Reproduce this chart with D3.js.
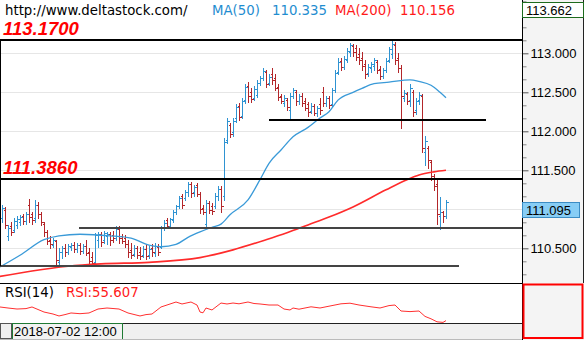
<!DOCTYPE html>
<html><head><meta charset="utf-8">
<script src="https://cdn.jsdelivr.net/npm/d3@7"></script>
<style>
html,body{margin:0;padding:0;background:#fff;}
svg{display:block;}
</style></head><body>
<svg id="c" width="585" height="340"></svg>
<script>
// ---------- DATA ----------
const open = [110.89,110.99,110.66,110.79,110.73,110.80,110.84,110.91,110.85,111.05,
110.94,110.89,111.05,110.94,110.81,110.71,110.61,110.54,110.59,110.32,
110.45,110.50,110.45,110.52,110.54,110.49,110.54,110.47,110.53,110.45,
110.39,110.32,110.61,110.68,110.61,110.66,110.68,110.67,110.63,110.75,
110.66,110.63,110.55,110.48,110.43,110.50,110.45,110.41,110.49,110.41,
110.50,110.44,110.52,110.52,110.76,110.86,110.79,110.86,110.97,111.04,
111.17,111.15,111.22,111.33,111.22,111.31,111.20,111.02,110.81,111.08,
111.04,111.04,111.17,111.26,111.17,111.89,112.08,111.99,112.17,112.32,
112.20,112.40,112.58,112.50,112.43,112.47,112.62,112.68,112.76,112.62,
112.73,112.68,112.57,112.45,112.36,112.40,112.27,112.45,112.50,112.39,
112.45,112.39,112.35,112.26,112.32,112.23,112.35,112.50,112.36,112.43,
112.35,112.53,112.76,112.90,112.82,112.91,113.02,113.09,113.07,112.99,
112.94,112.86,112.75,112.81,112.84,112.89,112.80,112.71,112.79,112.91,
112.99,113.11,112.94,112.81,112.43,112.48,112.40,112.50,112.27,112.40,
112.45,111.73,111.79,111.61,111.43,111.33,110.91,110.97,110.91];
const high = [111.05,111.03,110.80,110.84,110.89,110.91,110.93,110.94,110.97,111.13,
110.97,111.12,111.09,110.97,110.84,110.73,110.66,110.63,110.61,110.50,
110.53,110.55,110.55,110.57,110.58,110.57,110.57,110.55,110.61,110.50,
110.45,110.70,110.71,110.71,110.72,110.71,110.71,110.72,110.79,110.79,
110.68,110.67,110.61,110.57,110.54,110.53,110.52,110.53,110.54,110.53,
110.55,110.57,110.55,110.79,110.86,110.89,110.89,110.99,111.05,111.17,
111.20,111.25,111.35,111.35,111.31,111.34,111.22,111.05,111.12,111.11,
111.08,111.21,111.30,111.30,111.91,112.17,112.11,112.17,112.35,112.36,
112.43,112.61,112.63,112.55,112.58,112.66,112.71,112.81,112.79,112.73,
112.81,112.73,112.61,112.48,112.47,112.43,112.49,112.55,112.53,112.48,
112.49,112.43,112.38,112.36,112.35,112.32,112.43,112.57,112.45,112.45,
112.55,112.79,112.94,112.94,112.97,113.07,113.13,113.12,113.11,113.07,
113.02,112.91,112.86,112.89,112.94,112.91,112.84,112.81,112.94,113.08,
113.17,113.15,113.00,112.85,112.53,112.50,112.61,112.53,112.43,112.50,
112.48,111.94,111.81,111.63,111.45,111.38,111.16,110.98,111.12];
const low = [110.84,110.76,110.61,110.67,110.71,110.76,110.80,110.81,110.81,110.84,
110.81,110.84,110.89,110.80,110.66,110.55,110.50,110.52,110.29,110.29,
110.38,110.40,110.43,110.48,110.45,110.45,110.43,110.44,110.41,110.30,
110.27,110.29,110.52,110.53,110.57,110.55,110.54,110.58,110.61,110.57,
110.57,110.52,110.39,110.38,110.40,110.38,110.36,110.39,110.36,110.38,
110.40,110.40,110.41,110.50,110.73,110.76,110.76,110.84,110.94,111.02,
111.02,111.12,111.17,111.16,111.17,111.17,110.95,110.94,110.77,110.95,
110.94,111.02,111.12,110.97,111.12,111.85,111.93,111.94,112.12,112.14,
112.17,112.36,112.38,112.38,112.40,112.44,112.59,112.66,112.57,112.59,
112.61,112.53,112.40,112.36,112.32,112.27,112.17,112.43,112.34,112.35,
112.32,112.27,112.20,112.23,112.21,112.20,112.22,112.32,112.32,112.30,
112.32,112.50,112.73,112.79,112.80,112.89,112.97,112.97,112.91,112.86,
112.79,112.68,112.71,112.76,112.79,112.75,112.67,112.68,112.76,112.89,
112.94,112.86,112.76,112.04,112.39,112.35,112.32,112.20,112.22,112.35,
111.73,111.57,111.53,111.38,111.25,110.81,110.75,110.84,110.89];
const close = [111.02,110.80,110.76,110.71,110.85,110.88,110.90,110.85,110.94,110.90,
110.86,111.05,110.94,110.84,110.71,110.59,110.55,110.61,110.35,110.45,
110.50,110.45,110.53,110.54,110.49,110.54,110.47,110.53,110.44,110.34,
110.31,110.67,110.68,110.58,110.70,110.68,110.61,110.63,110.75,110.63,
110.59,110.55,110.45,110.41,110.50,110.41,110.40,110.49,110.40,110.49,
110.45,110.53,110.45,110.76,110.82,110.79,110.88,110.97,111.04,111.15,
111.05,111.22,111.33,111.21,111.29,111.20,111.00,110.97,111.08,110.99,
110.98,111.17,111.26,111.04,111.86,112.13,111.97,112.13,112.31,112.18,
112.39,112.57,112.45,112.41,112.54,112.62,112.68,112.77,112.61,112.70,
112.66,112.55,112.44,112.39,112.43,112.31,112.45,112.53,112.39,112.45,
112.36,112.30,112.25,112.32,112.23,112.30,112.27,112.36,112.43,112.34,
112.53,112.75,112.89,112.82,112.93,113.03,113.11,113.02,112.95,112.91,
112.84,112.73,112.82,112.86,112.91,112.79,112.71,112.79,112.90,113.05,
113.12,112.91,112.81,112.45,112.49,112.39,112.55,112.25,112.39,112.47,
111.79,111.87,111.63,111.43,111.30,110.94,110.97,110.91,111.095];

// moving averages (bar index, value)
const ma50Bar = [-0.7,6,14,19,26,36,43,49,53,58,62,66,70,73,76,82,86,89,93,97,102,106,109,112,117,120,124,129,136,139,143,146,148];
const ma50Val = [110.26,110.41,110.61,110.66,110.68,110.66,110.63,110.54,110.52,110.55,110.64,110.71,110.77,110.81,110.93,111.12,111.38,111.59,111.76,111.93,112.05,112.17,112.25,112.40,112.50,112.55,112.61,112.63,112.66,112.64,112.59,112.50,112.43];
const ma200Bar = [-0.7,10,22,33,49,66,77,88,95,102,109,117,128,135,139,144,148];
const ma200Val = [110.14,110.21,110.27,110.30,110.32,110.38,110.48,110.61,110.70,110.80,110.90,111.03,111.25,111.38,111.44,111.48,111.50];

// RSI(14) samples (bar index, value)
const rsiBar = [-0.7,2,5,8,10,14,17,19,21,23,26,29,32,35,39,42,46,48,50,53,55,58,60,63,65,66,67,68,70,73,75,77,79,82,84,86,89,92,94,96,97,99,103,106,109,113,116,119,123,126,129,131,133,136,139,141,143,145,147,148];
const rsiVal = [51.7,50,48.3,49,51.7,43.3,40,36.7,39,41.7,40.5,41.7,48.3,50,48.3,41.7,36.7,39,40,51.7,55,60,56.7,60,55,43.3,42,50,46.7,58.3,56.7,58.3,57,60,57.5,56.7,55,55,48.3,46.7,50,48,52,50,53,57,58,55,52,50,54,55,45,44,45,36,32,27,26,29];

const priceTicks = [110.5, 111.0, 111.5, 112.0, 112.5, 113.0];
const topPrice = 113.662;
const lastPrice = 111.095;

// horizontal levels: price, start bar, end bar
const levelPrice = [113.17, 111.386, 112.15, 110.76, 110.27];
const levelFrom  = [-1, -1, 89, 25.7, -1];
const levelTo    = [174, 174, 161.3, 174, 152.3];
const levelLabel = ["113.1700", "111.3860", "", "", ""];

const siteText = "http://www.deltastock.com/";
const ma50Label = ["MA(50)", "110.335"];
const ma200Label = ["MA(200)", "110.156"];
const rsiLabel = ["RSI(14)", "RSI:55.607"];
const dateLabel = "2018-07-02 12:00";

// ---------- DRAW ----------
const W = 585, H = 340, PR = 522, MAIN_B = 283, RSI_B = 323;
const N = close.length;
const svg = d3.select('#c');
svg.append('rect').attr('width', W).attr('height', H).attr('fill', '#fff');

const x = d3.scaleLinear([0, N - 1], [2, 446]);
const y = d3.scaleLinear([110.5, 113], [248.3, 53.3]);
const rsiY = d3.scaleLinear([30, 70], [320, 296]);
const px = i => Math.round(x(i)) + 0.5;
const py = v => Math.round(y(v)) + 0.5;

// axis backgrounds
svg.append('rect').attr('x', PR).attr('y', 0).attr('width', 62).attr('height', 340).attr('fill', '#f4f4f4');
svg.append('rect').attr('x', 0).attr('y', RSI_B).attr('width', PR).attr('height', 17).attr('fill', '#f0f0f0');

const defs = svg.append('defs');
defs.append('clipPath').attr('id', 'cm').append('rect').attr('x', 0).attr('y', 0).attr('width', PR).attr('height', MAIN_B);
defs.append('clipPath').attr('id', 'cr').append('rect').attr('x', 0).attr('y', MAIN_B + 1).attr('width', PR).attr('height', RSI_B - MAIN_B - 1);

const main = svg.append('g').attr('clip-path', 'url(#cm)');

// grid
main.selectAll('line.grid').data(priceTicks).join('line')
  .attr('x1', 0).attr('x2', PR).attr('y1', d => py(d)).attr('y2', d => py(d))
  .attr('stroke', '#e6e6e6').attr('stroke-width', 1).attr('shape-rendering', 'crispEdges');

// OHLC bars
const idx = d3.range(N);
main.append('g').selectAll('path').data(idx).join('path')
  .attr('d', i => {
    const xx = px(i);
    return `M${xx},${py(high[i]) - 0.5}V${py(low[i]) + 0.5}` +
           `M${xx - 2},${py(open[i])}H${xx}` +
           `M${xx},${py(close[i])}H${xx + 2.5}`;
  })
  .attr('fill', 'none')
  .attr('stroke', i => close[i] >= open[i] ? '#2f93d2' : '#b3262a')
  .attr('stroke-width', 1).attr('shape-rendering', 'crispEdges');

// moving averages
const line = d3.line().x(d => x(d[0])).y(d => y(d[1])).curve(d3.curveMonotoneX);
main.append('path').datum(ma50Bar.map((b, k) => [b, ma50Val[k]]))
  .attr('d', line).attr('fill', 'none').attr('stroke', '#3a9ad8').attr('stroke-width', 1.3);
main.append('path').datum(ma200Bar.map((b, k) => [b, ma200Val[k]]))
  .attr('d', line).attr('fill', 'none').attr('stroke', '#ff2b2b').attr('stroke-width', 1.6);

// levels
levelPrice.forEach((p, k) => {
  const heavy = k >= 3;
  main.append('line')
    .attr('x1', Math.max(0, x(levelFrom[k]))).attr('x2', Math.min(PR, x(levelTo[k])))
    .attr('y1', Math.round(y(p))).attr('y2', Math.round(y(p)))
    .attr('stroke', heavy ? '#444' : '#000').attr('stroke-width', 2)
    .attr('shape-rendering', 'crispEdges');
  if (levelLabel[k]) {
    main.append('text').attr('x', 3).attr('y', Math.round(y(p)) - 5)
      .attr('font-family', '"Liberation Sans", Arial, sans-serif')
      .attr('font-size', 18.5).attr('font-weight', 'bold').attr('font-style', 'italic')
      .attr('fill', '#ff0000').text(levelLabel[k]);
  }
});

// left border
svg.append('line').attr('x1', 0.5).attr('x2', 0.5).attr('y1', Math.round(y(levelPrice[0]))).attr('y2', Math.round(y(levelPrice[4])))
  .attr('stroke', '#000').attr('stroke-width', 1);

// header texts
const hdrFont = '"DejaVu Sans", Verdana, sans-serif';
const hdr = [
  [5, siteText, '#000'],
  [212, ma50Label[0], '#1f8dd0'], [272, ma50Label[1], '#1f8dd0'],
  [335, ma200Label[0], '#ff1a1a'], [400, ma200Label[1], '#ff1a1a']
];
hdr.forEach(h => svg.append('text').attr('x', h[0]).attr('y', 15)
  .attr('font-family', hdrFont).attr('font-size', 13.3).attr('fill', h[2]).text(h[1]));

// panel separators
svg.append('line').attr('x1', 0).attr('x2', PR).attr('y1', MAIN_B + 0.5).attr('y2', MAIN_B + 0.5).attr('stroke', '#000');
svg.append('line').attr('x1', 0).attr('x2', PR).attr('y1', RSI_B + 0.5).attr('y2', RSI_B + 0.5).attr('stroke', '#222');

// RSI
const rsiG = svg.append('g').attr('clip-path', 'url(#cr)');
rsiG.append('path').datum(rsiBar.map((b, k) => [b, rsiVal[k]]))
  .attr('d', d3.line().x(d => x(d[0])).y(d => rsiY(d[1])))
  .attr('fill', 'none').attr('stroke', '#ff3030').attr('stroke-width', 1);
svg.append('text').attr('x', 5).attr('y', 297).attr('font-family', hdrFont).attr('font-size', 13.3).attr('fill', '#000').text(rsiLabel[0]);
svg.append('text').attr('x', 66).attr('y', 297).attr('font-family', hdrFont).attr('font-size', 13.3).attr('fill', '#ff1a1a').text(rsiLabel[1]);

// price axis
const axFont = '"Liberation Sans", Arial, sans-serif';
const minor = d3.range(110.0, 113.7, 0.5 / 3).filter(v => !priceTicks.some(t => Math.abs(t - v) < 1e-6));
const axG = svg.append('g').attr('transform', `translate(${PR + 0.5},0)`);
axG.call(d3.axisRight(y).tickValues(minor).tickSize(4).tickFormat(''));
axG.call(g => g.select('.domain').remove());
axG.selectAll('line').attr('stroke', '#888');
// labels hidden where the last-price box covers them
const hiddenByBox = v => Math.abs(y(v) - (y(lastPrice) + 8)) < 14;
const axM = svg.append('g').attr('transform', `translate(${PR + 0.5},0)`);
axM.call(d3.axisRight(y).tickValues(priceTicks).tickSize(6).tickPadding(2)
  .tickFormat(v => hiddenByBox(v) ? '' : d3.format('.3f')(v)));
axM.select('.domain').remove();
axM.selectAll('line').attr('stroke', '#555');
axM.selectAll('text').attr('font-family', axFont).attr('font-size', 13).attr('fill', '#000');

// axis frame lines
svg.append('line').attr('x1', PR + 0.5).attr('x2', PR + 0.5).attr('y1', 0).attr('y2', 340).attr('stroke', '#000');
svg.append('line').attr('x1', 583.5).attr('x2', 583.5).attr('y1', 0).attr('y2', MAIN_B).attr('stroke', '#222');

// top price box
svg.append('rect').attr('x', PR + 0.5).attr('y', Math.round(y(topPrice)) + 0.5).attr('width', 61).attr('height', 15)
  .attr('fill', '#fff').attr('stroke', '#1d6b1d');
svg.append('text').attr('x', PR + 4).attr('y', Math.round(y(topPrice)) + 13).attr('font-family', axFont).attr('font-size', 13)
  .attr('fill', '#000').text(d3.format('.3f')(topPrice));

// last price box
svg.append('rect').attr('x', PR + 0.5).attr('y', Math.round(y(lastPrice)) + 0.5).attr('width', 57).attr('height', 15)
  .attr('fill', '#87cdf5').attr('stroke', '#3b8cc4');
svg.append('text').attr('x', PR + 4).attr('y', Math.round(y(lastPrice)) + 13).attr('font-family', axFont).attr('font-size', 13)
  .attr('fill', '#000').text(d3.format('.3f')(lastPrice));

// RSI axis box
svg.append('rect').attr('x', 523.5).attr('y', 284.5).attr('width', 59).attr('height', 53.5)
  .attr('fill', '#f4f4f4').attr('stroke', '#ff0000').attr('stroke-width', 2);

// time axis
svg.append('rect').attr('x', 0.5).attr('y', RSI_B + 0.5).attr('width', 11).attr('height', 15)
  .attr('fill', '#f0f0f0').attr('stroke', '#555');
svg.append('rect').attr('x', 12.5).attr('y', RSI_B + 0.5).attr('width', 110).attr('height', 16)
  .attr('fill', '#f2f2f2').attr('stroke', '#1f7a33');
svg.append('text').attr('x', 14).attr('y', 336).attr('font-family', axFont).attr('font-size', 13)
  .attr('fill', '#000').text(dateLabel);
svg.append('line').attr('x1', 0).attr('x2', PR).attr('y1', 339.5).attr('y2', 339.5).attr('stroke', '#bbb');
</script>
</body></html>
